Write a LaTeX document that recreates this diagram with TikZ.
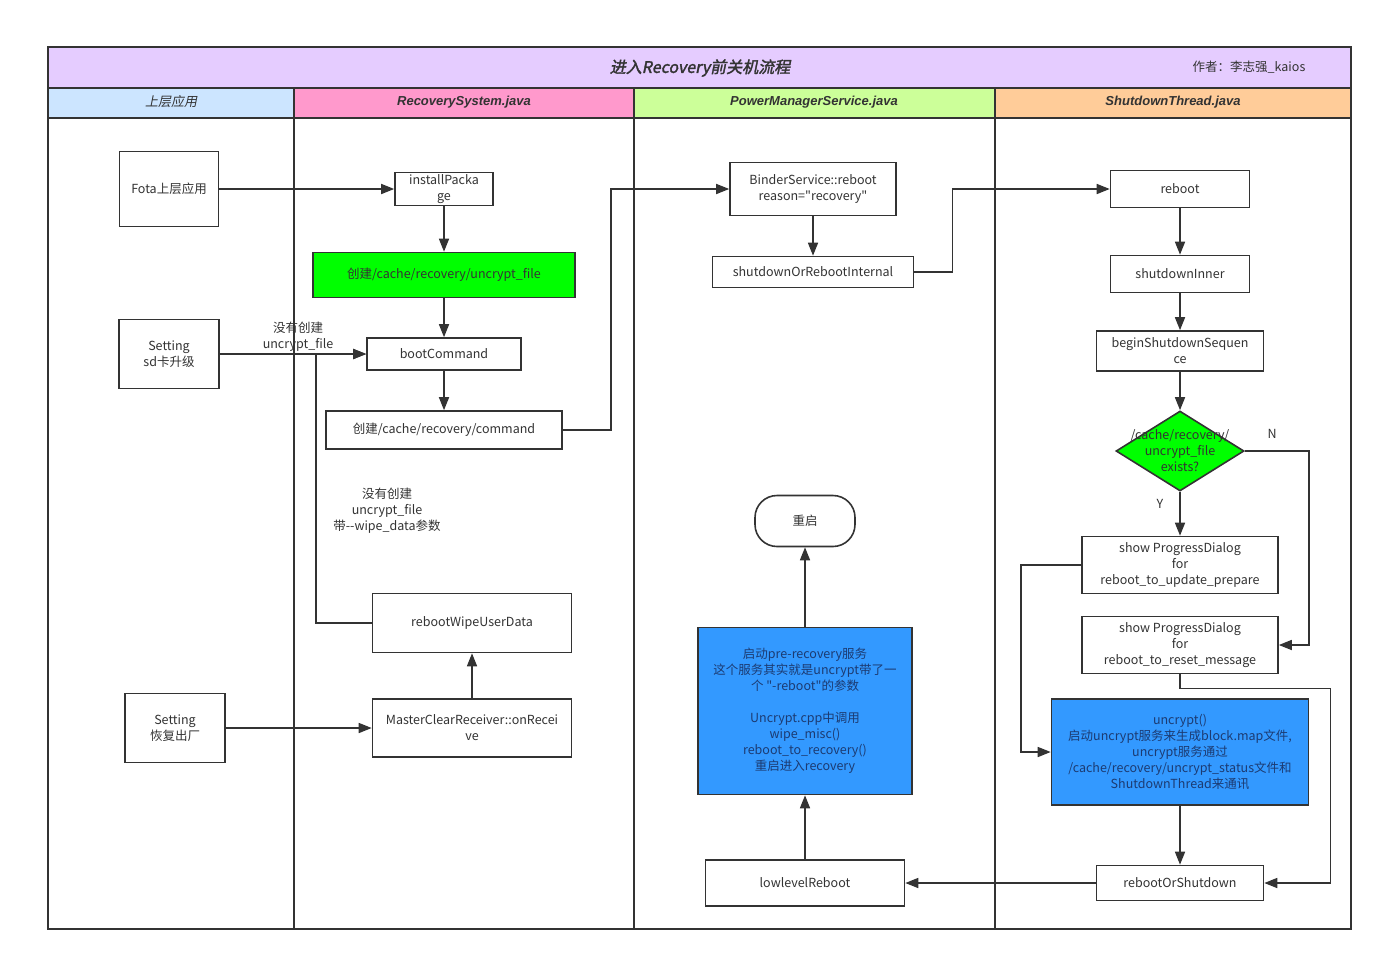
\documentclass[tikz,border=0pt]{standalone}
\usepackage{fontspec}
\setmainfont{Noto Sans CJK SC}[Ligatures=TeXOff]
\newfontfamily\headfont{Liberation Sans}
\newfontfamily\cjkslant[FakeSlant=0.2]{Noto Sans CJK SC}
\newfontfamily\titlefont[FakeSlant=0.2,FakeBold=2]{Noto Sans CJK SC}
\usetikzlibrary{arrows.meta,shapes.geometric,positioning}
\definecolor{ink}{HTML}{333333}
\definecolor{titlebg}{HTML}{E5CCFF}
\definecolor{laneapp}{HTML}{CCE5FF}
\definecolor{lanerec}{HTML}{FF99CC}
\definecolor{lanepm}{HTML}{CCFF99}
\definecolor{laneshut}{HTML}{FFCC99}
\definecolor{hotgreen}{HTML}{00FF00}
\definecolor{stepblue}{HTML}{3399FF}
\definecolor{blueink}{HTML}{1C3B72}
\begin{document}
\begin{tikzpicture}[x=1pt, y=-1pt, line width=1.6pt, color=ink,
  >={Triangle[length=13pt,width=10pt]},
  box/.style={draw=ink, fill=white, align=center, inner sep=0pt,
              font=\fontsize{12.5}{16}\selectfont},
  greenbox/.style={box, fill=hotgreen},
  bluebox/.style={box, fill=stepblue, text=blueink},
  decision/.style={diamond, draw=ink, fill=hotgreen, inner sep=0pt,
                   minimum width=128, minimum height=80},
  lanehead/.style={font=\headfont\bfseries\itshape\fontsize{13}{16}\selectfont},
  note/.style={align=center, font=\fontsize{12.5}{16}\selectfont},
  flow/.style={->}]
 \useasboundingbox (0,0) rectangle (1383,961);
 % swimlane frame
 \fill[titlebg] (48,47) rectangle (1351,88);
 \fill[laneapp] (48,88) rectangle (294,118);
 \fill[lanerec] (294,88) rectangle (634,118);
 \fill[lanepm] (634,88) rectangle (995,118);
 \fill[laneshut] (995,88) rectangle (1351,118);
 \draw (48,47) rectangle (1351,929);
 \draw (48,88) -- (1351,88);
 \draw (48,118) -- (1351,118);
 \foreach \x in {294,634,995}
   \draw (\x,88) -- (\x,929);
 \node (title) at (700,68) {\titlefont\fontsize{16}{18}\selectfont 进入Recovery前关机流程};
 \node[note] (author) at (1249,67) {作者：李志强\_kaios};
 \node[font=\cjkslant\fontsize{13}{16}\selectfont] (laneApp) at (171,102) {上层应用};
 \node[lanehead] (laneRec) at (464,102) {RecoverySystem.java};
 \node[lanehead] (lanePm) at (814,102) {PowerManagerService.java};
 \node[lanehead] (laneShut) at (1173,102) {ShutdownThread.java};

 % upper apps
 \node[box, minimum width=99, minimum height=75] (fota) at (169,189) {Fota上层应用};
 \node[box, minimum width=100, minimum height=69] (settingSd) at (169,354) {Setting\\sd卡升级};
 \node[box, minimum width=100, minimum height=69] (settingReset) at (175,728) {Setting\\恢复出厂};

 % RecoverySystem
 \node[box, minimum width=98, minimum height=33] (install) at (444,189) {installPacka\\ge};
 \node[greenbox, minimum width=262, minimum height=45] (mkUncrypt) at (444,275) {创建/cache/recovery/uncrypt\_file};
 \node[box, minimum width=154, minimum height=32] (bootCmd) at (444,354) {bootCommand};
 \node[box, minimum width=236, minimum height=38] (mkCmd) at (444,430) {创建/cache/recovery/command};
 \node[box, minimum width=199, minimum height=59] (wipe) at (472,623) {rebootWipeUserData};
 \node[box, minimum width=199, minimum height=58] (master) at (472,728) {MasterClearReceiver::onRecei\\ve};
 \node[note] (noUncrypt) at (298,337) {没有创建\\uncrypt\_file};
 \node[note] (noUncryptWipe) at (387,511) {没有创建\\uncrypt\_file\\带--wipe\_data参数};
 \coordinate (joinSd) at (316,354);

 % PowerManagerService
 \node[box, minimum width=166, minimum height=53] (binder) at (813,189) {BinderService::reboot\\reason="recovery"};
 \node[box, minimum width=201, minimum height=31] (shutInternal) at (813,272) {shutdownOrRebootInternal};
 \node[box, rounded corners=22pt, minimum width=100, minimum height=51] (restart) at (805,521) {重启};
 \node[bluebox, minimum width=214, minimum height=167] (preRec) at (805,711)
   {启动pre-recovery服务\\这个服务其实就是uncrypt带了一\\个 "-reboot"的参数\\[16pt]Uncrypt.cpp中调用\\wipe\_misc()\\reboot\_to\_recovery()\\重启进入recovery};
 \node[box, minimum width=199, minimum height=46] (lowlevel) at (805,883) {lowlevelReboot};

 % ShutdownThread
 \node[box, minimum width=139, minimum height=37] (reboot) at (1180,189) {reboot};
 \node[box, minimum width=139, minimum height=37] (shutInner) at (1180,274) {shutdownInner};
 \node[box, minimum width=167, minimum height=40] (beginSeq) at (1180,351) {beginShutdownSequen\\ce};
 \node[decision] (exists) at (1180,451) {};
 \node[note] (existsText) at (exists) {/cache/recovery/\\uncrypt\_file\\exists?};
 \node[note] (yes) at (1160,504) {Y};
 \node[note] (no) at (1272,434) {N};
 \node[box, minimum width=196, minimum height=57] (showPrep) at (1180,565) {show ProgressDialog\\for\\reboot\_to\_update\_prepare};
 \node[box, minimum width=196, minimum height=57] (showReset) at (1180,645) {show ProgressDialog\\for\\reboot\_to\_reset\_message};
 \node[bluebox, minimum width=257, minimum height=106] (uncrypt) at (1180,752)
   {uncrypt()\\启动uncrypt服务来生成block.map文件,\\uncrypt服务通过\\/cache/recovery/uncrypt\_status文件和\\ShutdownThread来通讯};
 \node[box, minimum width=167, minimum height=35] (rebootOrShut) at (1180,883) {rebootOrShutdown};

 % connectors
 \draw[flow] (fota) -- (install);
 \draw[flow] (install) -- (mkUncrypt);
 \draw[flow] (mkUncrypt) -- (bootCmd);
 \draw[flow] (settingSd) -- (bootCmd);
 \draw[flow] (wipe.west) -| (joinSd) -- (bootCmd.west);
 \draw[flow] (bootCmd) -- (mkCmd);
 \draw[flow] (mkCmd.east) -- ++(48,0) |- (binder.west);
 \draw[flow] (master) -- (wipe);
 \draw[flow] (settingReset) -- (master);
 \draw[flow] (binder) -- (shutInternal);
 \draw[flow] (shutInternal.east) -- ++(38,0) |- (reboot.west);
 \draw[flow] (reboot) -- (shutInner);
 \draw[flow] (shutInner) -- (beginSeq);
 \draw[flow] (beginSeq) -- (exists);
 \draw[flow] (exists) -- (showPrep);
 \draw[flow] (exists.east) -| ([xshift=30pt]showReset.east) -- (showReset.east);
 \draw[flow] (showPrep.west) -- ++(-60,0) |- (uncrypt.west);
 \draw[flow] (showReset.south) -- ++(0,14) -| ([xshift=66pt]rebootOrShut.east) -- (rebootOrShut.east);
 \draw[flow] (uncrypt) -- (rebootOrShut);
 \draw[flow] (rebootOrShut) -- (lowlevel);
 \draw[flow] (lowlevel) -- (preRec);
 \draw[flow] (preRec) -- (restart);
\end{tikzpicture}
\end{document}
